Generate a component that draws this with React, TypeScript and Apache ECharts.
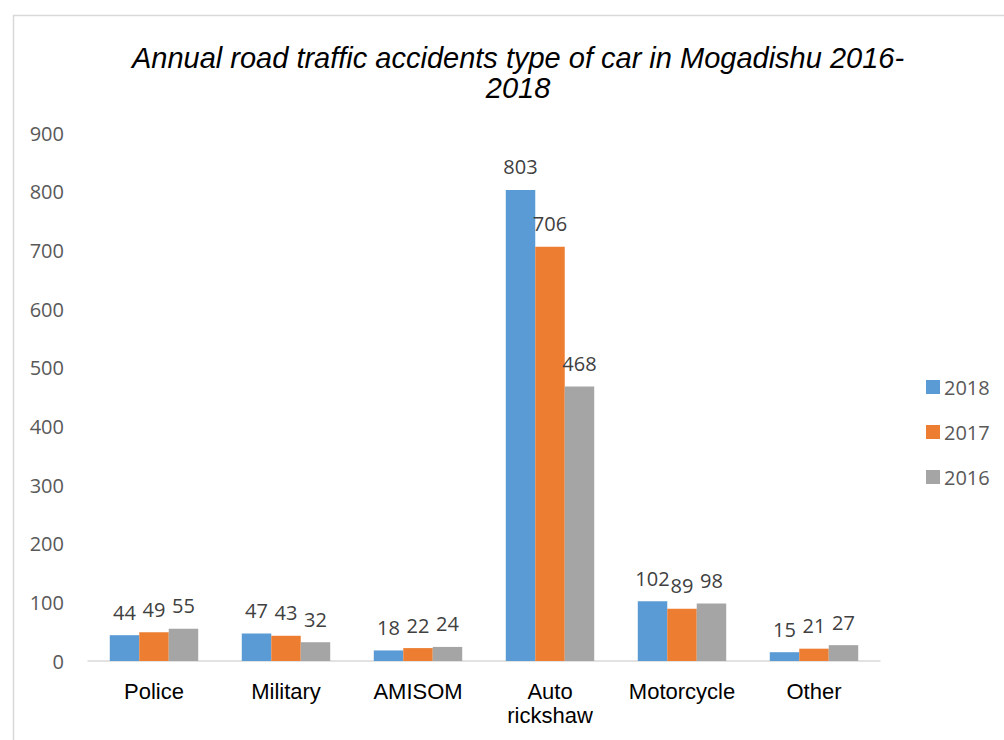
import React, { useEffect, useRef } from "react";
import * as echarts from "echarts";

const titleText = "Annual road traffic accidents type of car in Mogadishu 2016-\n2018";
const categories = ["Police", "Military", "AMISOM", "Auto\nrickshaw", "Motorcycle", "Other"];
const seriesNames = ["2018", "2017", "2016"];
const values2018 = [44, 47, 18, 803, 102, 15];
const values2017 = [49, 43, 22, 706, 89, 21];
const values2016 = [55, 32, 24, 468, 98, 27];
const colors = ["#5B9BD5", "#ED7D31", "#A5A5A5"];
const yMin = 0;
const yMax = 900;
const yInterval = 100;

export default function App() {
  const ref = useRef<HTMLDivElement>(null);
  useEffect(() => {
    if (!ref.current) return;
    const chart = echarts.init(ref.current, undefined, { renderer: "svg" });
    const numFont = "'Open Sans', sans-serif";
    const allValues = [values2018, values2017, values2016];
    chart.setOption({
      animation: false,
      backgroundColor: "#ffffff",
      graphic: [
        {
          type: "rect",
          left: 11,
          top: 13,
          shape: { x: 0, y: 0, width: 1010, height: 760 },
          style: { fill: "none", stroke: "#d9d9d9", lineWidth: 1.5 },
          silent: true,
        },
      ],
      title: {
        text: titleText,
        left: 513,
        textAlign: "center",
        top: 38,
        textStyle: {
          fontFamily: "'Liberation Sans', Arial, sans-serif",
          fontStyle: "italic",
          fontWeight: "normal",
          fontSize: 29,
          lineHeight: 30,
          color: "#000000",
        },
      },
      legend: {
        orient: "vertical",
        left: 921,
        top: 370,
        itemWidth: 14,
        itemHeight: 14,
        itemGap: 21,
        icon: "rect",
        data: seriesNames,
        textStyle: {
          fontFamily: numFont,
          fontSize: 20,
          lineHeight: 24,
          color: "#595959",
          padding: [0, 0, 0, -1],
        },
      },
      grid: { left: 88, right: 124, top: 133, bottom: 79, containLabel: false },
      xAxis: {
        type: "category",
        data: categories,
        axisLine: { show: true, lineStyle: { color: "#d9d9d9", width: 1.5 } },
        axisTick: { show: false },
        axisLabel: {
          interval: 0,
          margin: 18,
          fontFamily: "'Liberation Sans', Arial, sans-serif",
          fontSize: 22,
          lineHeight: 24,
          color: "#000000",
        },
      },
      yAxis: {
        type: "value",
        min: yMin,
        max: yMax,
        interval: yInterval,
        axisLine: { show: false },
        axisTick: { show: false },
        splitLine: { show: false },
        axisLabel: {
          margin: 24,
          fontFamily: numFont,
          fontSize: 20,
          color: "#595959",
        },
      },
      series: seriesNames.map((name, i) => ({
        name,
        type: "bar",
        data: allValues[i],
        barGap: "0%",
        barCategoryGap: "33%",
        itemStyle: { color: colors[i] },
        label: {
          show: true,
          position: "top",
          distance: 13,
          fontFamily: numFont,
          fontSize: 20,
          color: "#404040",
        },
      })),
    });
    return () => chart.dispose();
  }, []);
  return (
    <div
      ref={ref}
      style={{ position: "absolute", left: 0, top: 0, width: 1004, height: 740 }}
    />
  );
}
